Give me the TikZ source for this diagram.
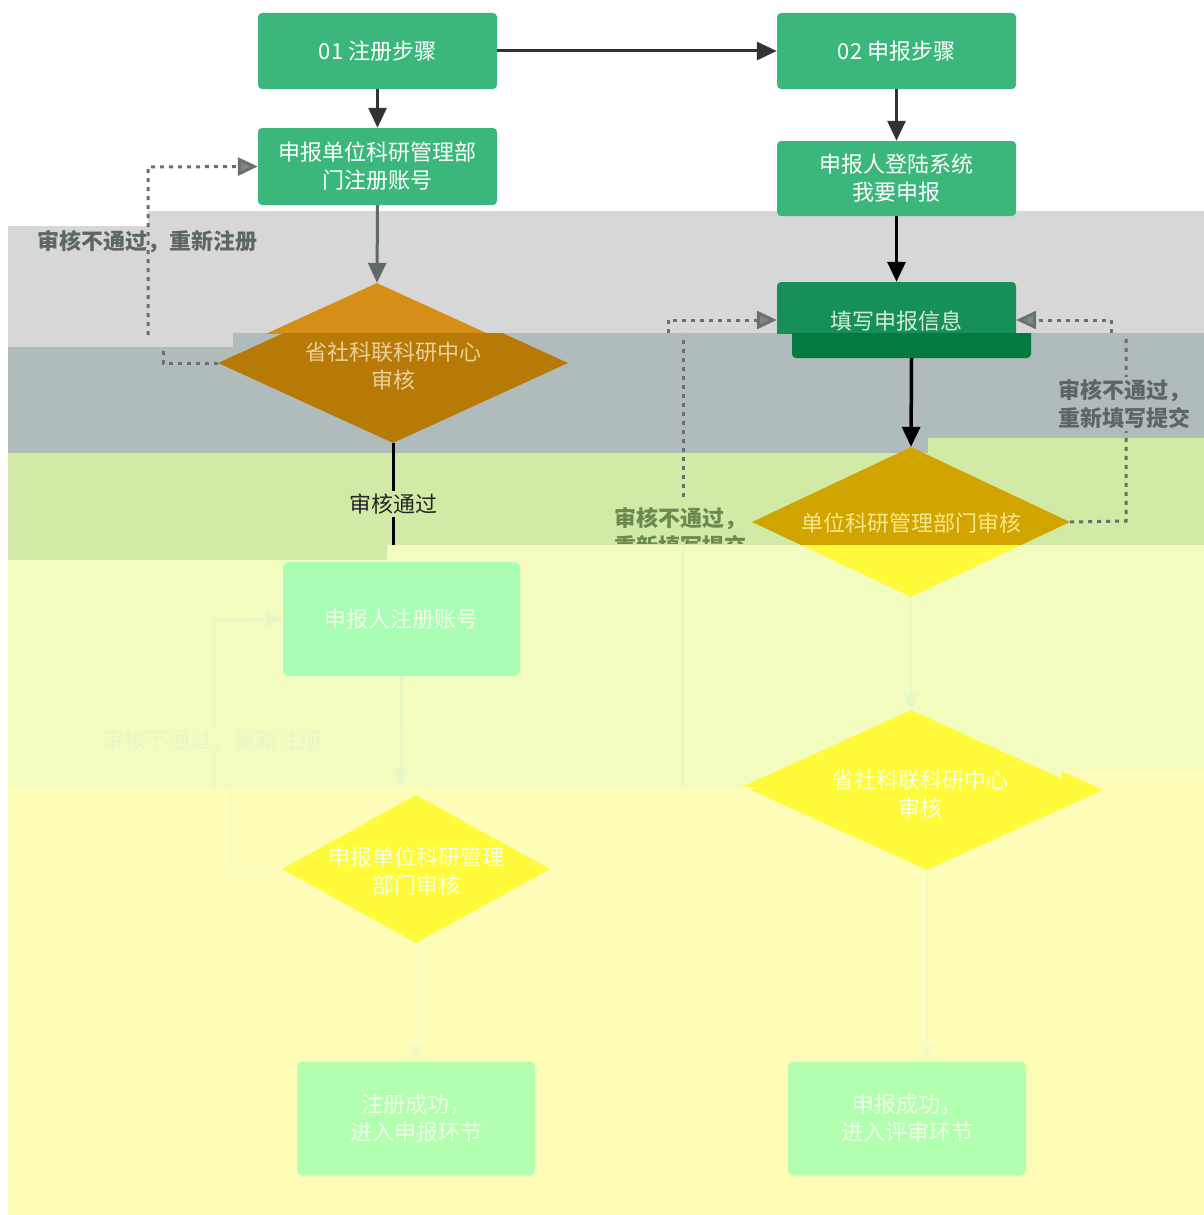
\documentclass[tikz,border=0pt]{standalone}
\usepackage{fontspec}
\setmainfont{Noto Sans CJK SC}
\usetikzlibrary{shapes.geometric,arrows.meta}
\definecolor{bandA}{HTML}{D7D7D7}
\definecolor{bandB}{HTML}{B0BBBC}
\definecolor{bandC}{HTML}{D1EAA6}
\definecolor{bandD}{HTML}{F3FCBF}
\definecolor{bandE}{HTML}{FDFDB7}
\definecolor{boxgreen}{HTML}{3CB77C}
\definecolor{etop}{HTML}{178F58}
\definecolor{ebot}{HTML}{037A40}
\definecolor{etext}{HTML}{D6ECD8}
\definecolor{dOneTop}{HTML}{D78E16}
\definecolor{dOneBot}{HTML}{B77A06}
\definecolor{dOneText}{HTML}{ECCF9A}
\definecolor{dTwoTop}{HTML}{D2A400}
\definecolor{yel}{HTML}{FFFB3A}
\definecolor{dTwoText}{HTML}{F6E68C}
\definecolor{paleA}{HTML}{A9FDB5}
\definecolor{paleB}{HTML}{B1FFAF}
\definecolor{paletext}{HTML}{F0FFE6}
\definecolor{faintD}{HTML}{E6F7C6}
\definecolor{faintE}{HTML}{F3FAC4}
\definecolor{darkline}{HTML}{333333}
\definecolor{grayline}{HTML}{5E6A6A}
\definecolor{dotline}{HTML}{687070}
\definecolor{dottip}{HTML}{7F8888}
\definecolor{labgray}{HTML}{5C6666}
\definecolor{labgreen}{HTML}{6B8A4E}
\begin{document}
\begin{tikzpicture}[x=1pt,y=-1pt,
  every node/.style={font=\fontsize{22}{28}\selectfont, inner sep=0pt},
  gbox/.style={rectangle, rounded corners=4pt, fill=boxgreen, draw=none, text=white, align=center, minimum width=239pt, minimum height=76pt},
  pbox/.style={rectangle, rounded corners=6pt, draw=none, text=paletext, align=center, minimum width=238pt, minimum height=114pt},
  dia/.style={diamond, draw=none, minimum width=350pt, minimum height=160pt},
  tipA/.style={-{Triangle[length=20pt,width=18pt]}},
  darrow/.style={draw=darkline, line width=3pt, tipA},
  barrow/.style={draw=black, line width=3.5pt, tipA},
  garrow/.style={draw=grayline, line width=3pt, tipA},
  dotted line/.style={draw=dotline, line width=3pt, dash pattern=on 4pt off 5pt},
  dottip/.style={-{Triangle[length=20pt,width=18pt,fill=dottip]}},
  faintline/.style={line width=2.5pt},
  boldlab/.style={font=\fontsize{22}{28}\selectfont\bfseries, align=left}
]
\useasboundingbox (0,0) rectangle (1204,1215);
\fill[white] (0,0) rectangle (1204,1215);
% bands
\fill[bandA] (8,226) -- (148,226) -- (148,211) -- (1204,211) -- (1204,333) -- (233,333) -- (233,347) -- (8,347) -- cycle;
\fill[bandB] (8,347) -- (233,347) -- (233,333) -- (1204,333) -- (1204,438) -- (928,438) -- (928,453) -- (8,453) -- cycle;
\fill[bandC] (8,453) -- (928,453) -- (928,438) -- (1204,438) -- (1204,545) -- (387,545) -- (387,560) -- (8,560) -- cycle;
\fill[bandD] (8,560) -- (387,560) -- (387,545) -- (1204,545) -- (1204,770) -- (1061,770) -- (1061,787) -- (8,787) -- cycle;
\fill[bandE] (8,787) -- (1061,787) -- (1061,770) -- (1204,770) -- (1204,1215) -- (8,1215) -- cycle;

% top boxes
\node[gbox] (a) at (377.5,51) {01 注册步骤};
\node[gbox] (b) at (896.5,51) {02 申报步骤};
\node[gbox, minimum height=77pt] (c) at (377.5,166.5) {申报单位科研管理部\\门注册账号};
\node[gbox, minimum height=75pt] (d) at (896.5,178.5) {申报人登陆系统\\我要申报};

% box E split
\begin{scope}
  \clip (0,0) rectangle (1204,333);
  \node[gbox, fill=etop] (e) at (896.5,320) {};
\end{scope}
\begin{scope}
  \clip (0,333) rectangle (1204,1215);
  \node[gbox, fill=ebot] (e2) at (911.5,320) {};
\end{scope}
\node[text=etext] (et) at (896.5,321) {填写申报信息};

% diamond 1 split
\begin{scope}
  \clip (0,0) rectangle (1204,333);
  \node[dia, fill=dOneTop] (d1a) at (377,363) {};
\end{scope}
\begin{scope}
  \clip (0,333) rectangle (1204,1215);
  \node[dia, fill=dOneBot] (d1) at (393,363) {};
\end{scope}
\node[text=dOneText, align=center] (t1) at (393,366) {省社科联科研中心\\审核};

% diamond 2 split
\begin{scope}
  \clip (0,0) rectangle (1204,545);
  \node[dia, fill=dTwoTop, minimum width=318pt, minimum height=150pt] (d2) at (911,522) {};
\end{scope}
\begin{scope}
  \clip (0,545) rectangle (1204,1215);
  \node[dia, fill=yel, minimum width=318pt, minimum height=150pt] (d2b) at (911,522) {};
\end{scope}
\node[text=dTwoText] (t2) at (911,523) {单位科研管理部门审核};

% faint lower elements
\node[pbox, fill=paleA, minimum width=237pt] (f1) at (401.5,619) {申报人注册账号};
\node[dia, fill=yel, minimum width=268pt, minimum height=148pt] (d3) at (416,869) {};
\node[text=paletext, align=center] (t3) at (416,871) {申报单位科研管理\\部门审核};
\begin{scope}
  \clip (0,0) -- (1204,0) -- (1204,770) -- (1061,770) -- (1061,787) -- (0,787) -- cycle;
  \node[dia, fill=yel, minimum width=352pt] (d4a) at (911,790) {};
\end{scope}
\begin{scope}
  \clip (0,787) -- (1061,787) -- (1061,770) -- (1204,770) -- (1204,1215) -- (0,1215) -- cycle;
  \node[dia, fill=yel, minimum width=352pt] (d4) at (927,790) {};
\end{scope}
\node[text=paletext, align=center] (t4) at (920,794) {省社科联科研中心\\审核};
\node[pbox, fill=paleB] (g1) at (416,1118.5) {注册成功，\\进入申报环节};
\node[pbox, fill=paleB] (g2) at (907,1118.5) {申报成功，\\进入评审环节};

% solid connectors
\draw[darrow] (a.east) -- (b.west);
\draw[darrow] (a.south) -- (c.north);
\draw[darrow] (b.south) -- (d.north);
\draw[barrow] (d.south) -- (e.north);
\draw[garrow] (c.south) -- (d1a.north);
\coordinate (p1) at (393,545);
\draw[draw=black, line width=3pt] (d1.south) -- (p1);
\node[fill=bandC, inner sep=3pt, text=black!85] (ok) at (393,504) {审核通过};
\draw[barrow] (e2.south) -- (d2.north);

% dotted loop left (register)
\coordinate (l1) at (163,363);
\coordinate (l2) at (163,347);
\coordinate (l3) at (148,335);
\coordinate (l4) at (148,167);
\draw[dotted line] (d1.west) -- (l1) -- (l2);
\draw[dotted line, dottip] (l3) -- (l4) -- (c.west);
\node[boldlab, text=labgray] (lab1) at (147,242) {审核不通过，重新注册};

% dotted loop right
\coordinate (r1) at (1126,521);
\coordinate (r2) at (1126,335);
\coordinate (r3) at (1111,333);
\coordinate (r4) at (1111,320);
\draw[dotted line] (d2.east) -- (r1) -- (r2);
\draw[dotted line, dottip] (r3) -- (r4) -- (e.east);
\node[boldlab, fill=bandB, inner sep=2pt, anchor=west, text=labgray] (lab2) at (1056,404) {审核不通过，\\重新填写提交};

% dotted loop middle
\coordinate (m1) at (683,497);
\coordinate (m2) at (683,335);
\coordinate (m3) at (668,333);
\coordinate (m4) at (668,320);
\coordinate (m5) at (683,548);
\coordinate (m6) at (683,787);
\draw[dotted line] (m1) -- (m2);
\draw[dotted line, dottip] (m3) -- (m4) -- (e.west);
\draw[faintline, draw=faintD] (m5) -- (m6);
\begin{scope}
  \clip (0,0) rectangle (1204,543);
  \node[boldlab, text=labgreen, anchor=west] (lab3) at (614,532) {审核不通过，\\重新填写提交};
\end{scope}

% faint connectors
\coordinate (q1) at (401,785);
\draw[faintline, draw=faintD, -{Triangle[length=16pt,width=14pt]}] (f1.south) -- (q1);
\draw[faintline, draw=faintE, -{Triangle[length=16pt,width=14pt]}] (d3.south) -- (g1.north);
\draw[faintline, draw=faintD, -{Triangle[length=16pt,width=14pt]}] (d2b.south) -- (d4a.north);
\draw[faintline, draw=faintE, -{Triangle[length=16pt,width=14pt]}] (d4.south) -- (d4.south |- g2.north);
\coordinate (k1) at (230,869);
\coordinate (k2) at (230,787);
\coordinate (k3) at (214,787);
\coordinate (k4) at (214,620);
\draw[faintline, draw=faintE] (d3.west) -- (k1) -- (k2);
\draw[faintline, draw=faintD, -{Triangle[length=16pt,width=14pt]}] (k3) -- (k4) -- (f1.west);
\node[text=faintD, fill=bandD, inner sep=2pt] (lab4) at (212,740) {审核不通过，重新注册};
\end{tikzpicture}
\end{document}
